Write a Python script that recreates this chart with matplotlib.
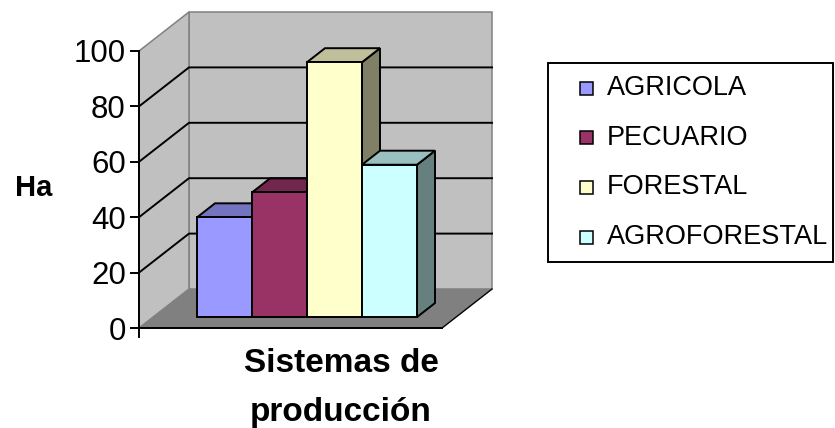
import numpy as np
import matplotlib.pyplot as plt
from matplotlib.patches import Polygon, Rectangle
from matplotlib.colors import to_rgb

plt.rcParams['font.family'] = ['Liberation Sans', 'DejaVu Sans']

# Données : superficie (Ha) par système de production
series = ['AGRICOLA', 'PECUARIO', 'FORESTAL', 'AGROFORESTAL']
valores = [36, 45, 92, 55]
colores = ['#9999FF', '#993366', '#FFFFCC', '#CCFFFF']
y_ticks = [0, 20, 40, 60, 80, 100]
categoria = ['Sistemas de', 'producción']

W, H = 835, 428
PX = 2.77              # pixels par Ha sur le plan avant
Y0 = 328               # pixel du zéro (plan avant)
DX, DY = 50, 39 / PX   # décalage de profondeur (x en pixels, y en Ha)
X0, X1 = 139, 442      # bords du sol (plan avant)
T0, T1 = 0.28, 0.64    # profondeur avant / arrière des barres
BX, BW = 183, 55       # début et largeur des barres
LW = 1.4               # épaisseur des traits noirs

fig = plt.figure(figsize=(W / 100, H / 100), dpi=100)
ax = fig.add_axes([0, 0, 1, 1])
ax.set_xlim(0, W)
ax.set_ylim(-(H - Y0) / PX, Y0 / PX)


def proj(x, v, t):
    # projection oblique : t = 0 plan avant, t = 1 mur du fond
    return (x + DX * t, v + DY * t)


def ombre(c, f):
    r, g, b = to_rgb(c)
    return (r * f, g * f, b * f)


ymax = y_ticks[-1]
gris = '#808080'

# sol, mur du fond, mur gauche
sol = [proj(X0, 0, 0), proj(X1, 0, 0), proj(X1, 0, 1), proj(X0, 0, 1)]
fond = [proj(X0, 0, 1), proj(X1, 0, 1), proj(X1, ymax, 1), proj(X0, ymax, 1)]
gauche = [proj(X0, 0, 0), proj(X0, 0, 1), proj(X0, ymax, 1), proj(X0, ymax, 0)]
ax.add_patch(Polygon(sol, closed=True, facecolor=gris, edgecolor=gris, lw=1.1, zorder=1))
ax.add_patch(Polygon(fond, closed=True, facecolor='#C0C0C0', edgecolor=gris, lw=1.1, zorder=1))
ax.add_patch(Polygon(gauche, closed=True, facecolor='#C0C0C0', edgecolor=gris, lw=1.1, zorder=1))

# lignes de grille (mur gauche + fond)
for v in y_ticks[1:-1]:
    a, b, c = proj(X0, v, 0), proj(X0, v, 1), proj(X1, v, 1)
    ax.plot([a[0], b[0], c[0]], [a[1], b[1], c[1]], color='black', lw=LW, zorder=2)

# bord avant et bord droit du sol
ax.plot([X0, X1], [0, 0], color='black', lw=LW, zorder=2)
p, q = proj(X1, 0, 0), proj(X1, 0, 1)
ax.plot([p[0], q[0]], [p[1], q[1]], color='black', lw=0.9, zorder=2)
ax.plot([X0, X0], [-3.2, 0], color='black', lw=LW, zorder=2)

# barres 3D, de gauche à droite
for i, (v, c) in enumerate(zip(valores, colores)):
    xa, xb = BX + i * BW, BX + (i + 1) * BW
    cote = [proj(xb, 0, T0), proj(xb, v, T0), proj(xb, v, T1), proj(xb, 0, T1)]
    dessus = [proj(xa, v, T0), proj(xb, v, T0), proj(xb, v, T1), proj(xa, v, T1)]
    face = [proj(xa, 0, T0), proj(xb, 0, T0), proj(xb, v, T0), proj(xa, v, T0)]
    z = 3 + i
    ax.add_patch(Polygon(cote, closed=True, facecolor=ombre(c, 0.5), edgecolor='black', lw=LW, zorder=z))
    ax.add_patch(Polygon(dessus, closed=True, facecolor=ombre(c, 0.75), edgecolor='black', lw=LW, zorder=z))
    ax.add_patch(Polygon(face, closed=True, facecolor=c, edgecolor='black', lw=LW, zorder=z))

# axe des valeurs
for s in ['top', 'right', 'bottom']:
    ax.spines[s].set_visible(False)
ax.spines['left'].set_position(('data', X0))
ax.spines['left'].set_bounds(0, ymax)
ax.spines['left'].set_linewidth(LW)
ax.spines['left'].set_zorder(2)
ax.set_yticks(y_ticks)
ax.set_xticks([])
ax.tick_params(axis='y', labelsize=22.5, length=6.5, width=LW, pad=3)
ax.patch.set_visible(False)

# calque en pixels : titres et légende
ov = fig.add_axes([0, 0, 1, 1], zorder=10)
ov.set_xlim(0, W)
ov.set_ylim(H, 0)
ov.axis('off')

ov.text(34, 188, 'Ha', fontsize=21, fontweight='bold', ha='center', va='center')
ov.text(341, 363, categoria[0], fontsize=24, fontweight='bold', ha='center', va='center')
ov.text(341, 413, categoria[1], fontsize=24, fontweight='bold', ha='center', va='center')

ov.add_patch(Rectangle((548, 63), 285, 199, facecolor='white', edgecolor='black', lw=LW))
for i, (nom, c) in enumerate(zip(series, colores)):
    yc = 88 + i * 49.7
    ov.add_patch(Rectangle((580, yc - 6.5), 13, 13, facecolor=c, edgecolor='black', lw=1.1))
    ov.text(607, yc, nom, fontsize=19.5, ha='left', va='center')

fig.savefig('out.png', dpi=100)
